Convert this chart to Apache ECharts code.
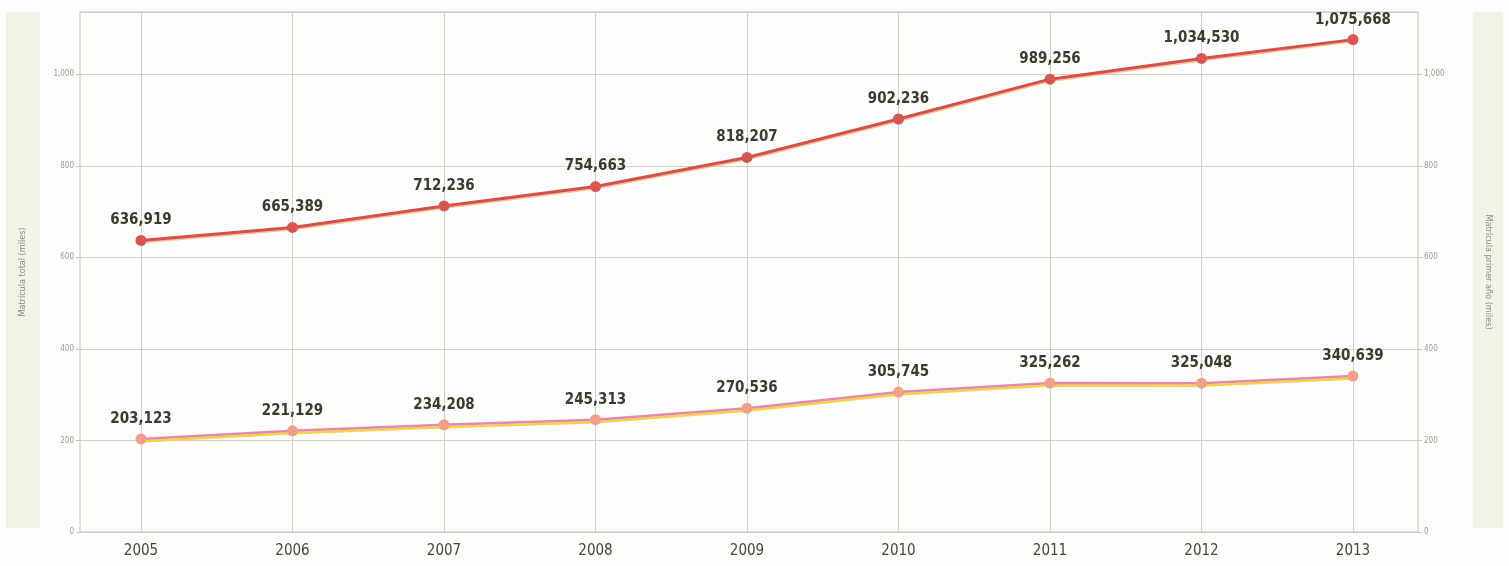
<!DOCTYPE html>
<html>
<head>
<meta charset="utf-8">
<script src="https://cdn.jsdelivr.net/npm/echarts@6/dist/echarts.min.js"></script>
<style>
html,body{margin:0;padding:0;background:#fdfdfb;}
#chart{width:1509px;height:566px;}
</style>
</head>
<body>
<div id="chart"></div>
<script>
const years = ['2005','2006','2007','2008','2009','2010','2011','2012','2013'];
const totalEnrollment = [636.919, 665.389, 712.236, 754.663, 818.207, 902.236, 989.256, 1034.530, 1075.668];
const firstYearEnrollment = [203.123, 221.129, 234.208, 245.313, 270.536, 305.745, 325.262, 325.048, 340.639];
const leftAxisName = 'Matrícula total (miles)';
const rightAxisName = 'Matrícula primer año (miles)';

const fmtThousands = v => {
  const s = Math.round(v * 1000).toString();
  return s.replace(/\B(?=(\d{3})+(?!\d))/g, ',');
};
const fmtTick = v => v >= 1000 ? v.toString().replace(/\B(?=(\d{3})+(?!\d))/g, ',') : String(v);
const FONT = '"DejaVu Sans", sans-serif';
const YMAX = 1136;

const chart = echarts.init(document.getElementById('chart'));
const labelStyle = {
  show: true,
  position: 'top',
  distance: 7,
  fontFamily: FONT,
  fontWeight: 'bold condensed',
  fontSize: 15,
  color: '#3b3b2c',
  formatter: p => fmtThousands(p.value)
};
const yTickLabel = {
  fontFamily: FONT,
  fontWeight: 'normal condensed',
  fontSize: 8,
  color: '#9a9a92',
  formatter: fmtTick,
  showMaxLabel: false
};

chart.setOption({
  backgroundColor: '#fdfdfb',
  animation: false,
  graphic: [
    { type: 'rect', left: 6, top: 12, shape: { width: 34, height: 516 }, style: { fill: '#f3f2e6' }, z: -1 },
    { type: 'rect', left: 1473, top: 12, shape: { width: 30, height: 516 }, style: { fill: '#f3f2e6' }, z: -1 }
  ],
  grid: [
    { left: 80, right: 91, top: 12, bottom: 34, show: true, borderColor: '#c4c4bc', borderWidth: 1 },
    { left: 141, right: 156, top: 12, bottom: 34 }
  ],
  xAxis: [
    { type: 'category', gridIndex: 0, data: years, show: false },
    {
      type: 'category', gridIndex: 1, data: years, boundaryGap: false,
      axisLine: { show: false }, axisTick: { show: false },
      axisLabel: { fontFamily: FONT, fontWeight: 'normal condensed', fontSize: 15, color: '#45453a', margin: 12 },
      splitLine: { show: true, lineStyle: { color: '#cfcfc8', width: 1 } }
    }
  ],
  yAxis: [
    {
      type: 'value', gridIndex: 0, position: 'left', min: 0, max: YMAX, interval: 200,
      name: leftAxisName, nameLocation: 'middle', nameGap: 53, nameRotate: 90,
      nameTextStyle: { fontFamily: FONT, fontWeight: 'normal condensed', fontSize: 9, color: '#8a8a80' },
      axisLine: { show: false },
      axisTick: { show: true, length: 4, lineStyle: { color: '#c4c4bc' } },
      axisLabel: Object.assign({ margin: 6 }, yTickLabel),
      splitLine: { show: true, lineStyle: { color: '#cfcfc8', width: 1 } }
    },
    {
      type: 'value', gridIndex: 0, position: 'right', min: 0, max: YMAX, interval: 200,
      name: rightAxisName, nameLocation: 'middle', nameGap: 66, nameRotate: -90,
      nameTextStyle: { fontFamily: FONT, fontWeight: 'normal condensed', fontSize: 9, color: '#8a8a80' },
      axisLine: { show: false },
      axisTick: { show: true, length: 4, lineStyle: { color: '#c4c4bc' } },
      axisLabel: Object.assign({ margin: 6 }, yTickLabel),
      splitLine: { show: false }
    },
    { type: 'value', gridIndex: 1, min: 0, max: YMAX, show: false }
  ],
  series: [
    {
      name: leftAxisName, type: 'line', xAxisIndex: 1, yAxisIndex: 2,
      data: totalEnrollment,
      symbol: 'circle', symbolSize: 11,
      lineStyle: { color: '#d4504a', width: 3, shadowColor: 'rgba(245,170,110,0.7)', shadowOffsetY: 1.5 },
      itemStyle: { color: '#d8564f' },
      label: labelStyle,
      z: 3
    },
    {
      name: rightAxisName, type: 'line', xAxisIndex: 1, yAxisIndex: 2,
      data: firstYearEnrollment,
      symbol: 'circle', symbolSize: 11,
      lineStyle: { color: '#e58aa6', width: 2.5, shadowColor: '#f7d04c', shadowOffsetY: 2.5 },
      itemStyle: { color: '#f0a088' },
      label: labelStyle,
      z: 2
    }
  ]
});
</script>
</body>
</html>
